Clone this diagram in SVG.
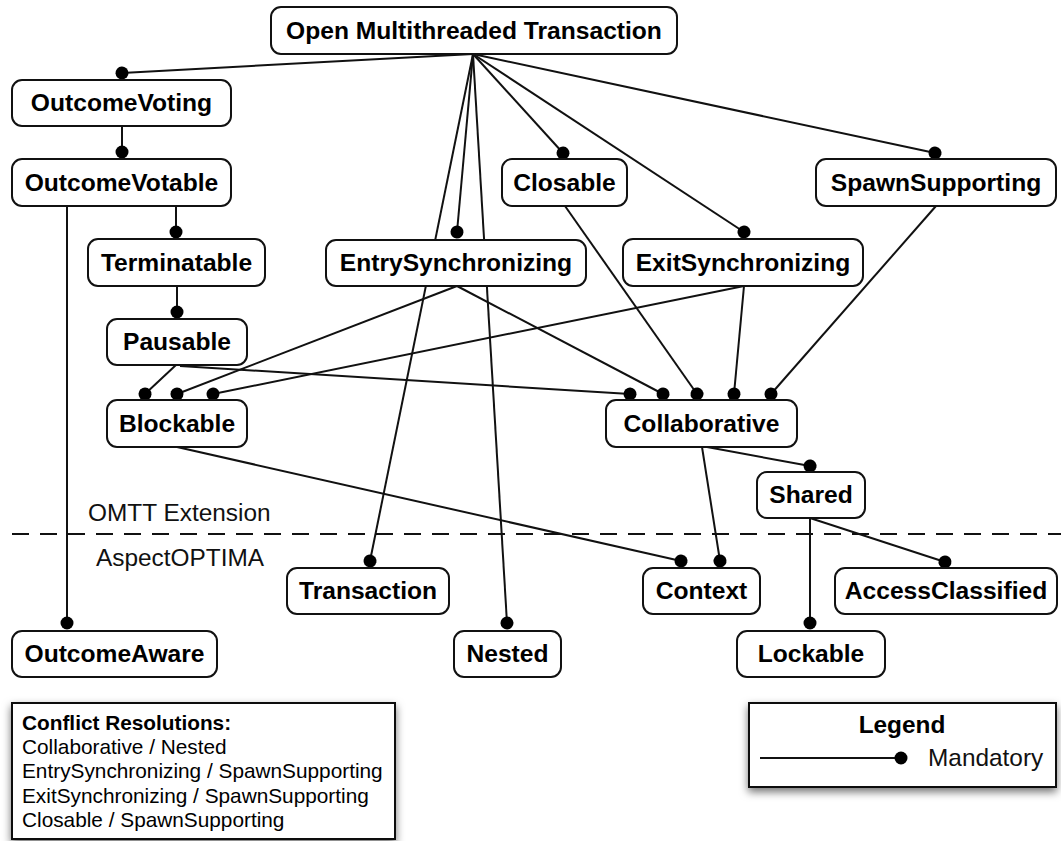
<svg xmlns="http://www.w3.org/2000/svg" width="1061" height="841" viewBox="0 0 1061 841">
  <style>
    .node rect { fill: #ffffff; stroke: #111111; stroke-width: 2; }
    .node text { font-family: "Liberation Sans", Arial, Helvetica, sans-serif; font-weight: bold; font-size: 24.6px; fill: #000000; text-anchor: middle; }
    .edge { stroke: #111111; stroke-width: 2; fill: none; marker-end: url(#dot); }
    .layer { font-family: "Liberation Sans", Arial, Helvetica, sans-serif; font-size: 24.4px; fill: #111111; }
    .box { fill: #ffffff; stroke: #111111; stroke-width: 2; }
    .note { font-family: "Liberation Sans", Arial, Helvetica, sans-serif; font-size: 20.8px; fill: #000000; }
    .note-title { font-family: "Liberation Sans", Arial, Helvetica, sans-serif; font-size: 20.8px; font-weight: bold; fill: #000000; }
    .legend-title { font-family: "Liberation Sans", Arial, Helvetica, sans-serif; font-size: 24.4px; font-weight: bold; fill: #000000; text-anchor: middle; }
  </style>
  <defs>
    <marker id="dot" viewBox="-7 -7 14 14" refX="0" refY="0" markerWidth="14" markerHeight="14" markerUnits="userSpaceOnUse" orient="auto">
      <circle cx="0" cy="0" r="6.5" fill="#000000"/>
    </marker>
    <filter id="shadow" x="-10%" y="-20%" width="120%" height="150%">
      <feDropShadow dx="0" dy="4" stdDeviation="4" flood-color="#000000" flood-opacity="0.55"/>
    </filter>
  </defs>

  <rect width="1061" height="841" fill="#ffffff"/>

  <!-- layer separator -->
  <line x1="12" y1="534" x2="1061" y2="534" stroke="#111111" stroke-width="2" stroke-dasharray="17 11"/>
  <text class="layer" x="88" y="521">OMTT Extension</text>
  <text class="layer" x="96" y="566">AspectOPTIMA</text>

  <!-- connectors: each ends with a filled dot at the required feature -->
  <g id="connectors">
    <line class="edge" x1="473" y1="54" x2="122" y2="73"/>
    <line class="edge" x1="473" y1="54" x2="457" y2="232"/>
    <line class="edge" x1="473" y1="54" x2="370" y2="561"/>
    <line class="edge" x1="473" y1="54" x2="507" y2="623"/>
    <line class="edge" x1="473" y1="54" x2="563" y2="153"/>
    <line class="edge" x1="473" y1="54" x2="744" y2="232"/>
    <line class="edge" x1="473" y1="54" x2="935" y2="153"/>
    <line class="edge" x1="122" y1="126" x2="122" y2="152"/>
    <line class="edge" x1="176" y1="206" x2="176" y2="232"/>
    <line class="edge" x1="67" y1="206" x2="67" y2="623"/>
    <line class="edge" x1="177" y1="286" x2="177" y2="312"/>
    <line class="edge" x1="176" y1="365" x2="145" y2="394"/>
    <line class="edge" x1="180" y1="366" x2="630" y2="394"/>
    <line class="edge" x1="457" y1="286" x2="177" y2="394"/>
    <line class="edge" x1="744" y1="286" x2="213" y2="394"/>
    <line class="edge" x1="457" y1="286" x2="663" y2="394"/>
    <line class="edge" x1="565" y1="206" x2="697" y2="394"/>
    <line class="edge" x1="744" y1="286" x2="734" y2="394"/>
    <line class="edge" x1="936" y1="206" x2="771" y2="394"/>
    <line class="edge" x1="707" y1="447" x2="810" y2="466"/>
    <line class="edge" x1="702" y1="447" x2="720" y2="561"/>
    <line class="edge" x1="177" y1="447" x2="681" y2="561"/>
    <line class="edge" x1="810" y1="518" x2="810" y2="623"/>
    <line class="edge" x1="810" y1="518" x2="945" y2="562"/>
  </g>

  <!-- feature nodes -->
  <g id="omt" class="node"><rect x="271" y="7" width="406" height="47" rx="10"/><text x="474" y="39">Open Multithreaded Transaction</text></g>
  <g id="outcome-voting" class="node"><rect x="12" y="80" width="219" height="46" rx="10"/><text x="121.5" y="111">OutcomeVoting</text></g>
  <g id="outcome-votable" class="node"><rect x="12" y="159" width="219" height="47" rx="10"/><text x="121.5" y="191">OutcomeVotable</text></g>
  <g id="terminatable" class="node"><rect x="88" y="239" width="177" height="47" rx="10"/><text x="176.5" y="271">Terminatable</text></g>
  <g id="pausable" class="node"><rect x="107" y="319" width="140" height="46" rx="10"/><text x="177" y="350">Pausable</text></g>
  <g id="blockable" class="node"><rect x="107" y="400" width="140" height="47" rx="10"/><text x="177" y="432">Blockable</text></g>
  <g id="entry-synchronizing" class="node"><rect x="326" y="240" width="260" height="46" rx="10"/><text x="456" y="271">EntrySynchronizing</text></g>
  <g id="closable" class="node"><rect x="502" y="159" width="125" height="47" rx="10"/><text x="564.5" y="191">Closable</text></g>
  <g id="exit-synchronizing" class="node"><rect x="623" y="239" width="240" height="47" rx="10"/><text x="743" y="271">ExitSynchronizing</text></g>
  <g id="spawn-supporting" class="node"><rect x="816" y="159" width="240" height="47" rx="10"/><text x="936" y="191">SpawnSupporting</text></g>
  <g id="collaborative" class="node"><rect x="606" y="400" width="191" height="47" rx="10"/><text x="701.5" y="432">Collaborative</text></g>
  <g id="shared" class="node"><rect x="757" y="472" width="108" height="46" rx="10"/><text x="811" y="503">Shared</text></g>
  <g id="transaction" class="node"><rect x="287" y="568" width="162" height="46" rx="10"/><text x="368" y="599">Transaction</text></g>
  <g id="context" class="node"><rect x="643" y="568" width="117" height="46" rx="10"/><text x="701.5" y="599">Context</text></g>
  <g id="access-classified" class="node"><rect x="835" y="568" width="222" height="46" rx="10"/><text x="946" y="599">AccessClassified</text></g>
  <g id="outcome-aware" class="node"><rect x="12" y="631" width="205" height="46" rx="10"/><text x="114.5" y="662">OutcomeAware</text></g>
  <g id="nested" class="node"><rect x="454" y="631" width="107" height="46" rx="10"/><text x="507.5" y="662">Nested</text></g>
  <g id="lockable" class="node"><rect x="737" y="631" width="148" height="46" rx="10"/><text x="811" y="662">Lockable</text></g>

  <!-- conflict resolution notes -->
  <g id="conflicts">
    <rect class="box" x="12" y="703" width="383" height="136" filter="url(#shadow)"/>
    <text class="note-title" x="22" y="730">Conflict Resolutions:</text>
    <text class="note" x="22" y="754">Collaborative / Nested</text>
    <text class="note" x="22" y="778">EntrySynchronizing / SpawnSupporting</text>
    <text class="note" x="22" y="803">ExitSynchronizing / SpawnSupporting</text>
    <text class="note" x="22" y="827">Closable / SpawnSupporting</text>
  </g>

  <!-- legend -->
  <g id="legend">
    <rect class="box" x="749" y="703" width="307" height="84" filter="url(#shadow)"/>
    <text class="legend-title" x="902" y="733">Legend</text>
    <line class="edge" x1="760" y1="758" x2="901" y2="758"/>
    <text class="layer" x="928" y="766" fill="#000000">Mandatory</text>
  </g>
</svg>
